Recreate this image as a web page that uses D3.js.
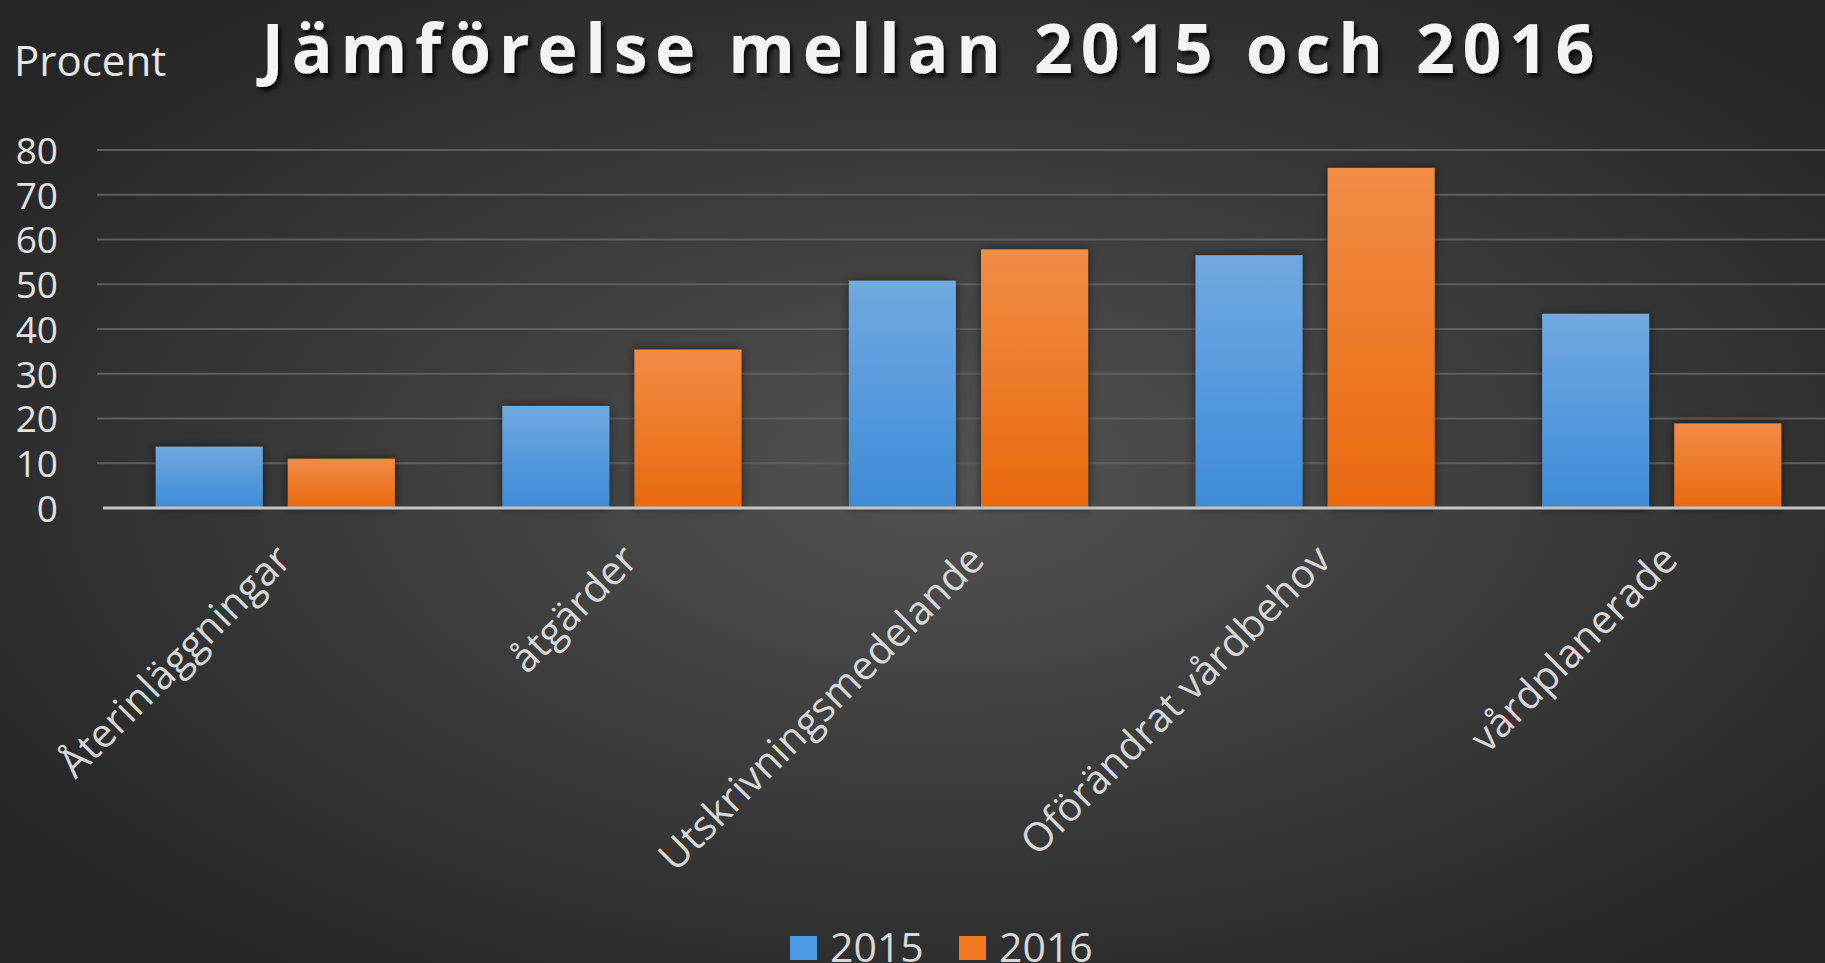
<!DOCTYPE html>
<html>
<head>
<meta charset="utf-8">
<script src="https://cdn.jsdelivr.net/npm/d3@7"></script>
<style>
    html, body { margin: 0; padding: 0; background: #333; overflow: hidden; }
    text { font-family: "Open Sans", "Noto Sans", sans-serif; }
</style>
</head>
<body>
<div class="chart"></div>
<script>
const categories = ['Återinläggningar', 'åtgärder', 'Utskrivningsmedelande', 'Oförändrat vårdbehov', 'vårdplanerade'];
const series = ['2015', '2016'];
const values2015 = [13.7, 22.8, 50.8, 56.5, 43.4];
const values2016 = [11.0, 35.4, 57.8, 76.0, 18.9];
const yTicks = [0, 10, 20, 30, 40, 50, 60, 70, 80];

const width = 1825;
const height = 963;
const margin = {left: 102, right: -10, top: 150, bottom: 455};

const svg = d3.select(".chart").append("svg")
    .attr("width", width)
    .attr("height", height);

const defs = svg.append("defs");

// background glow, lighter towards the middle
const bg = defs.append("radialGradient")
    .attr("id", "bg")
    .attr("cx", "52%").attr("cy", "50%").attr("r", "62%");
bg.append("stop").attr("offset", "0%").attr("stop-color", "#525252");
bg.append("stop").attr("offset", "100%").attr("stop-color", "#262626");

const barFill = {
    '2015': ['#71a9e0', '#3d8bd8'],
    '2016': ['#f18c45', '#e9690e']
};
series.forEach(s => {
    const g = defs.append("linearGradient")
        .attr("id", "bar" + s)
        .attr("x1", 0).attr("y1", 0).attr("x2", 0).attr("y2", 1);
    g.append("stop").attr("offset", "0%").attr("stop-color", barFill[s][0]);
    g.append("stop").attr("offset", "100%").attr("stop-color", barFill[s][1]);
});

const shadow = defs.append("filter").attr("id", "shadow")
    .attr("x", "-20%").attr("y", "-20%").attr("width", "140%").attr("height", "140%");
shadow.append("feDropShadow")
    .attr("dx", 0).attr("dy", 0).attr("stdDeviation", 5)
    .attr("flood-color", "#000").attr("flood-opacity", 0.55);

const titleShadow = defs.append("filter").attr("id", "tshadow");
titleShadow.append("feDropShadow")
    .attr("dx", 3).attr("dy", 4).attr("stdDeviation", 2)
    .attr("flood-color", "#000").attr("flood-opacity", 0.8);

svg.append("rect")
    .attr("width", width)
    .attr("height", height)
    .attr("fill", "url(#bg)");

const x0 = d3.scaleBand()
    .domain(categories)
    .range([margin.left, width - margin.right])
    .paddingInner(0.31)
    .paddingOuter(0.155);

const x1 = d3.scaleBand()
    .domain(series)
    .range([0, x0.bandwidth()])
    .paddingInner(0.19);

const y = d3.scaleLinear()
    .domain([0, 80])
    .range([height - margin.bottom, margin.top]);

// gridlines
svg.append("g")
    .classed("grid", true)
    .selectAll("line")
    .data(yTicks.filter(d => d > 0))
    .join("line")
    .attr("x1", 97)
    .attr("x2", width)
    .attr("y1", d => y(d))
    .attr("y2", d => y(d))
    .attr("stroke", "#5e5e5e")
    .attr("stroke-width", 2);

// y axis labels
const yAxis = svg.append("g")
    .attr("transform", "translate(58,0)")
    .call(d3.axisLeft(y).tickValues(yTicks).tickSize(0).tickPadding(0));
yAxis.select(".domain").remove();
yAxis.selectAll("text")
    .attr("fill", "#e2e2e2")
    .style("font-size", "37px")
    .attr("dy", "0.36em");

// bars
const rows = categories.map((c, i) => ({category: c, values: {'2015': values2015[i], '2016': values2016[i]}}));

const groups = svg.append("g")
    .classed("bars", true)
    .selectAll("g")
    .data(rows)
    .join("g")
    .attr("transform", d => `translate(${x0(d.category)},0)`);

groups.selectAll("rect")
    .data(d => series.map(s => ({series: s, value: d.values[s]})))
    .join("rect")
    .attr("x", d => x1(d.series))
    .attr("width", x1.bandwidth())
    .attr("y", d => y(d.value))
    .attr("height", d => y(0) - y(d.value))
    .attr("fill", d => `url(#bar${d.series})`)
    .attr("filter", "url(#shadow)");

// x axis line
svg.append("line")
    .attr("x1", 103)
    .attr("x2", width)
    .attr("y1", y(0))
    .attr("y2", y(0))
    .attr("stroke", "#c4c4c4")
    .attr("stroke-width", 3);

// category labels, rotated
svg.append("g")
    .classed("x-labels", true)
    .selectAll("text")
    .data(categories)
    .join("text")
    .attr("transform", d => `translate(${x0(d) + x0.bandwidth() / 2 + 18},${y(0) + 54}) rotate(-45)`)
    .attr("text-anchor", "end")
    .attr("fill", "#d8d8d8")
    .style("font-size", "40px")
    .text(d => d);

// title and unit
svg.append("text")
    .attr("x", 928)
    .attr("y", 73)
    .attr("text-anchor", "middle")
    .attr("fill", "#f4f4f4")
    .attr("filter", "url(#tshadow)")
    .style("font-size", "68px")
    .style("font-weight", "bold")
    .attr("textLength", 1333)
    .attr("lengthAdjust", "spacing")
    .text("Jämförelse mellan 2015 och 2016");

svg.append("text")
    .attr("x", 14)
    .attr("y", 76)
    .attr("fill", "#e6e6e6")
    .style("font-size", "42px")
    .text("Procent");

// legend
const legendColors = {'2015': '#4a9ae6', '2016': '#f47a22'};
const legend = svg.append("g")
    .classed("legend", true)
    .selectAll("g")
    .data(series)
    .join("g")
    .attr("transform", (_, i) => `translate(${790 + i * 169},936)`);
legend.append("rect")
    .attr("width", 27)
    .attr("height", 24)
    .attr("fill", d => legendColors[d]);
legend.append("text")
    .attr("x", 40)
    .attr("y", 26)
    .attr("fill", "#d8d8d8")
    .style("font-size", "41px")
    .text(d => d);
</script>
</body>
</html>
